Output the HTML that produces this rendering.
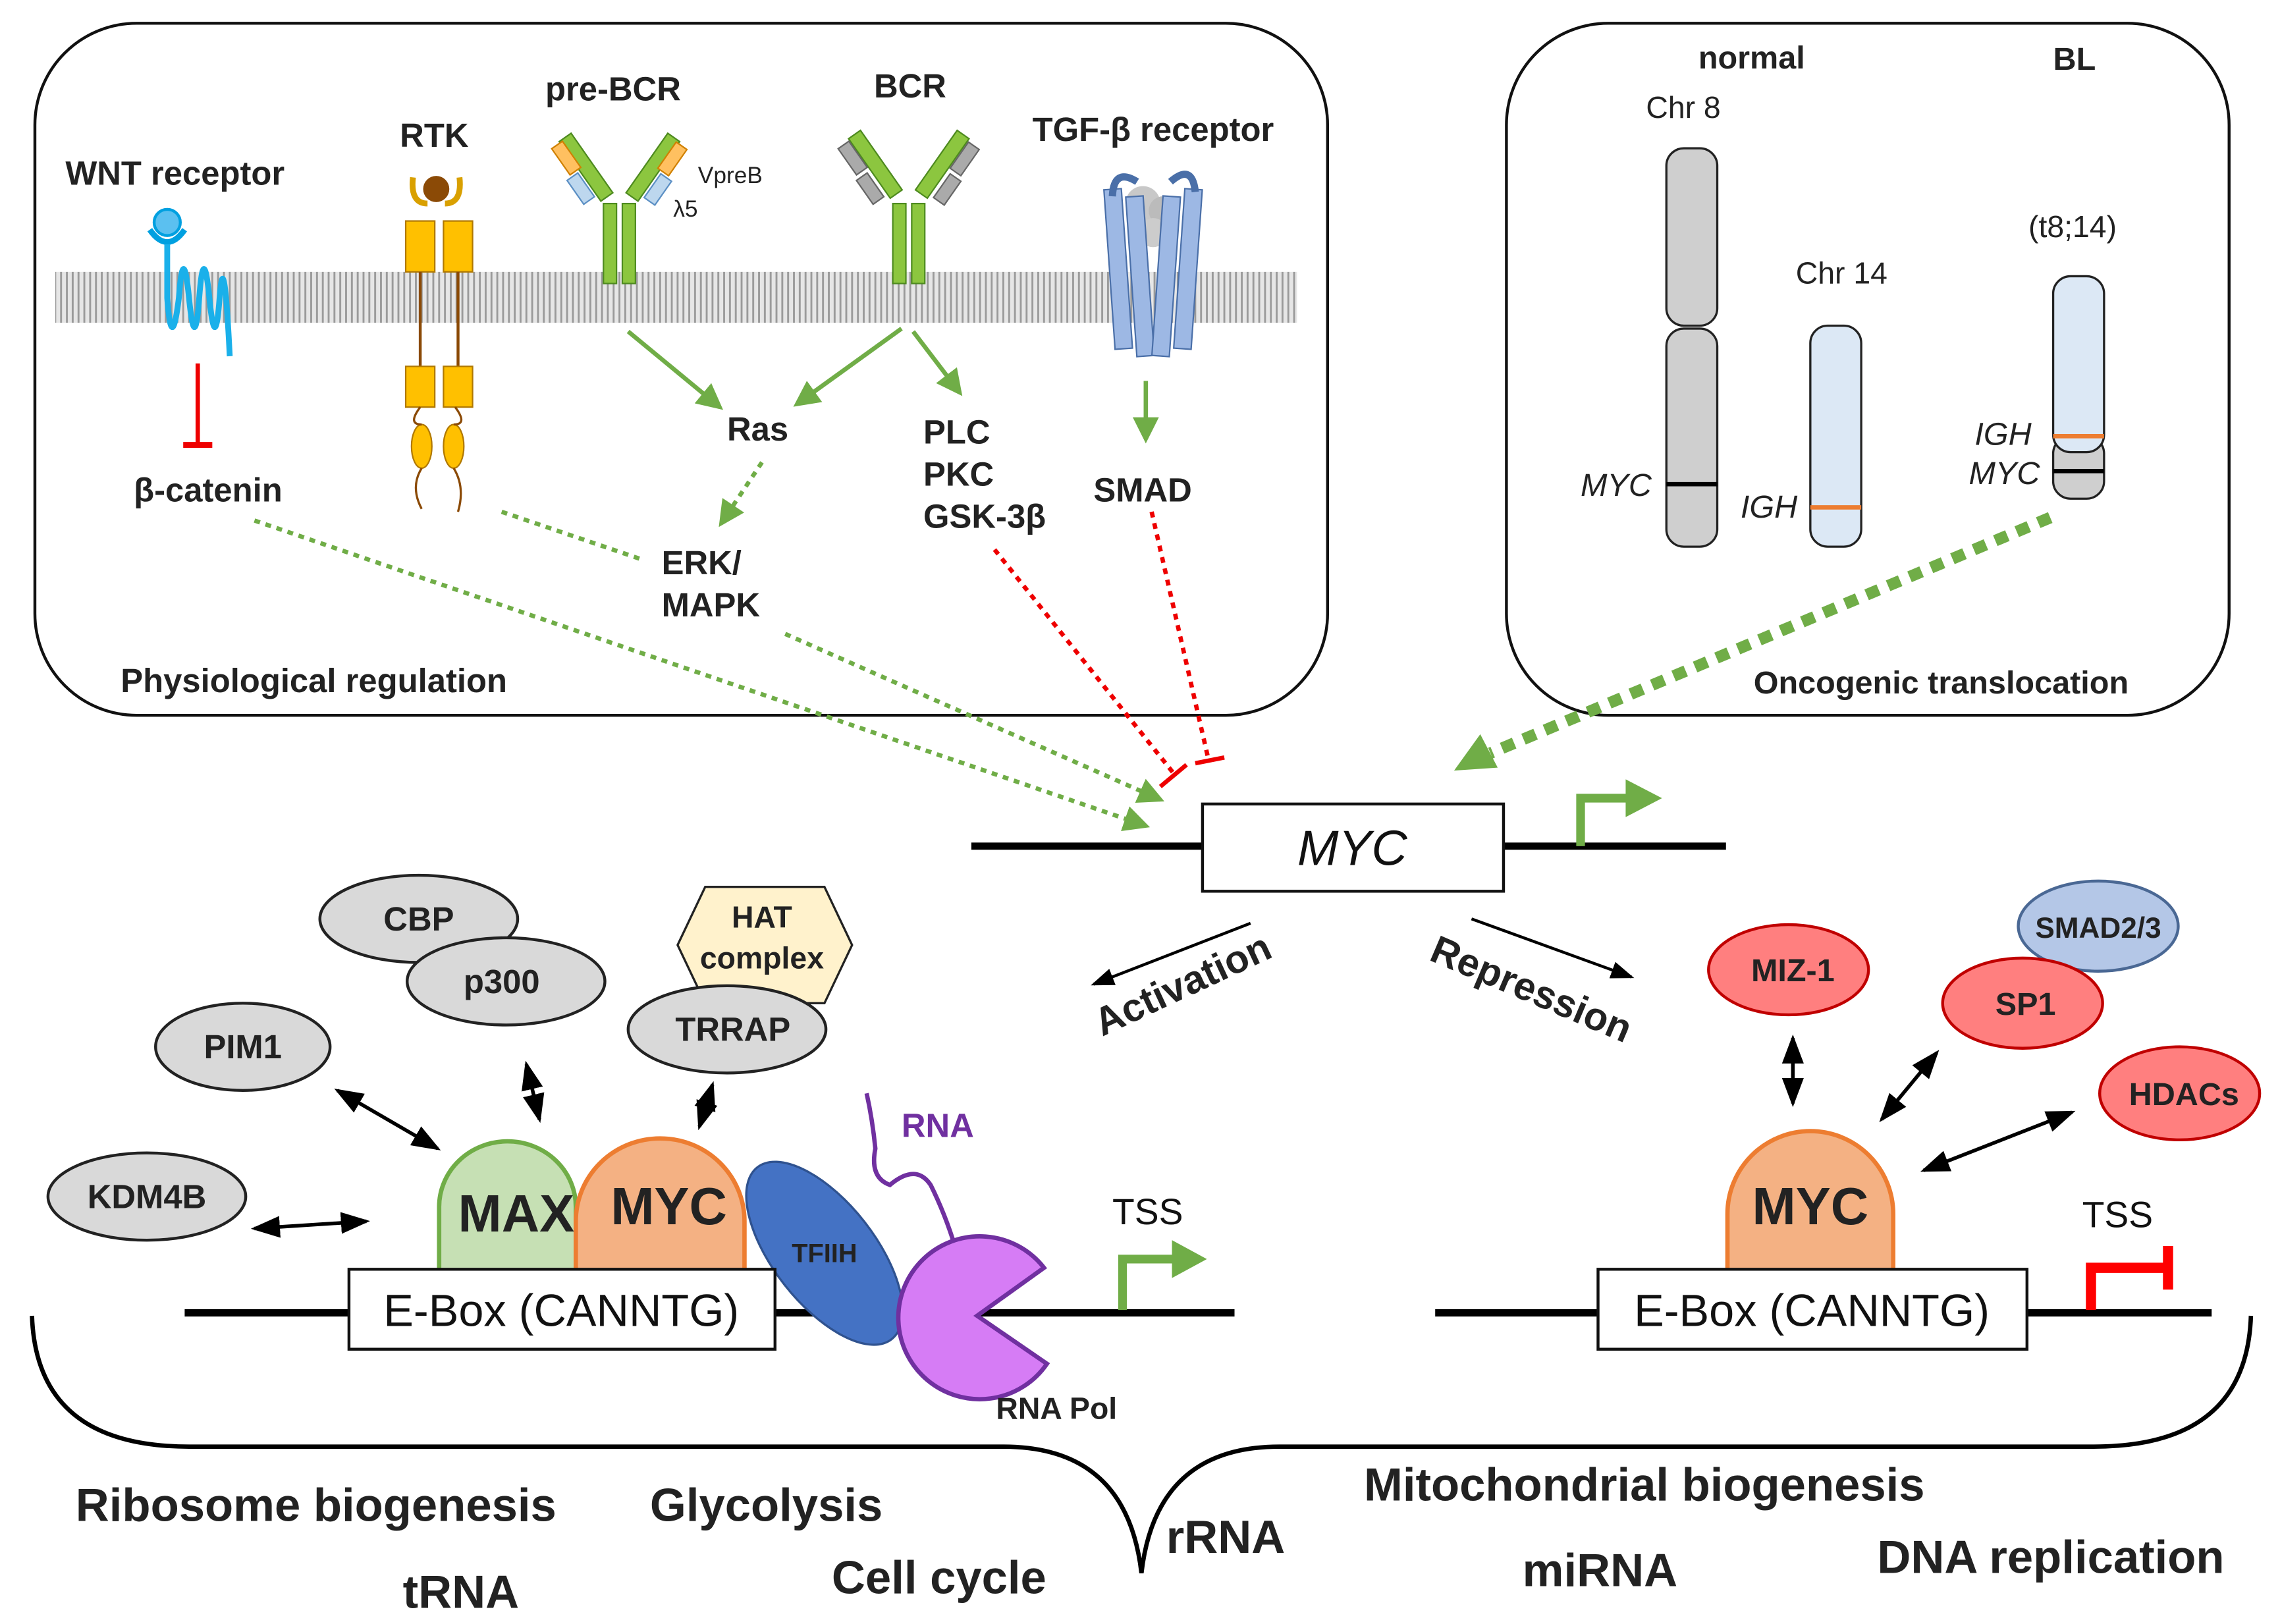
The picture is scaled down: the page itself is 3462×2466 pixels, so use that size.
<!DOCTYPE html>
<html><head><meta charset="utf-8"><style>
html,body{margin:0;padding:0;background:#fff}
svg{display:block}
text{font-family:"Liberation Sans",Arial,sans-serif}
.b{font-weight:bold;fill:#222}
</style></head><body>
<svg width="3462" height="2466" viewBox="0 0 1568 1117" preserveAspectRatio="none" xmlns="http://www.w3.org/2000/svg">
<defs>
<pattern id="mem" width="4" height="35" patternUnits="userSpaceOnUse">
<rect width="4" height="35" fill="#e6e6e6"/>
<line x1="2" y1="0" x2="2" y2="35" stroke="#9a9a9a" stroke-width="1.3"/>
</pattern>
<marker id="ga" markerWidth="6" markerHeight="6" refX="5" refY="3" orient="auto" markerUnits="strokeWidth"><path d="M0,0L6,3L0,6z" fill="#70ad47"/></marker>
<marker id="ka" markerWidth="8" markerHeight="8" refX="7" refY="4" orient="auto" markerUnits="strokeWidth"><path d="M0,1L8,4L0,7z" fill="#000"/></marker>
<marker id="ks" markerWidth="8" markerHeight="8" refX="1" refY="4" orient="auto" markerUnits="strokeWidth"><path d="M8,1L0,4L8,7z" fill="#000"/></marker>
</defs>

<rect x="24" y="16" width="889" height="476" rx="70" fill="none" stroke="#111" stroke-width="2"/>
<rect x="1036" y="16" width="497" height="476" rx="70" fill="none" stroke="#111" stroke-width="2"/>

<rect x="38" y="187" width="854" height="35" fill="url(#mem)"/>

<text x="45" y="127" font-size="23" class="b">WNT receptor</text>
<text x="275" y="101" font-size="23" class="b">RTK</text>
<text x="375" y="69" font-size="23" class="b">pre-BCR</text>
<text x="601" y="67" font-size="23" class="b">BCR</text>
<text x="710" y="97" font-size="23" class="b">TGF-β receptor</text>
<text x="480" y="126" font-size="16" fill="#222">VpreB</text>
<text x="463" y="149" font-size="16" fill="#222">λ5</text>

<circle cx="115" cy="153" r="9" fill="#5bc0f0" stroke="#00a0e0" stroke-width="2"/>
<path d="M103,158 Q115,175 127,158" fill="none" stroke="#00a0e0" stroke-width="4"/>
<path d="M115,168 L115,205 Q118,245 123,205 Q126,165 130,205 Q134,245 137,205 Q140,165 144,205 Q148,245 151,205 Q154,165 158,245" fill="none" stroke="#1ab0ea" stroke-width="4"/>
<line x1="136" y1="250" x2="136" y2="305" stroke="#e00" stroke-width="3"/>
<line x1="126" y1="306" x2="146" y2="306" stroke="#e00" stroke-width="4"/>
<text x="92" y="345" font-size="23" class="b">β-catenin</text>

<circle cx="300" cy="130" r="9" fill="#8b4a06"/>
<path d="M284,122 Q282,140 294,140 M316,122 Q318,140 306,140" fill="none" stroke="#d9a000" stroke-width="4"/>
<rect x="279" y="152" width="20" height="35" fill="#ffc000" stroke="#b07800"/>
<rect x="305" y="152" width="20" height="35" fill="#ffc000" stroke="#b07800"/>
<line x1="289" y1="187" x2="289" y2="252" stroke="#8b4a06" stroke-width="2"/>
<line x1="315" y1="187" x2="315" y2="252" stroke="#8b4a06" stroke-width="2"/>
<rect x="279" y="252" width="20" height="28" fill="#ffc000" stroke="#b07800"/>
<rect x="305" y="252" width="20" height="28" fill="#ffc000" stroke="#b07800"/>
<ellipse cx="290" cy="307" rx="7" ry="15" fill="#ffc000" stroke="#b07800"/>
<ellipse cx="312" cy="307" rx="7" ry="15" fill="#ffc000" stroke="#b07800"/>
<path d="M289,280 Q280,292 290,292 M313,280 Q322,292 312,292 M290,322 Q282,335 290,350 M312,322 Q320,335 315,352" fill="none" stroke="#8b4a06" stroke-width="1.5"/>

<rect x="415" y="140" width="9" height="55" fill="#8cc63f" stroke="#4d8a1e"/>
<rect x="428" y="140" width="9" height="55" fill="#8cc63f" stroke="#4d8a1e"/>
<rect x="398" y="90" width="10" height="50" fill="#8cc63f" stroke="#4d8a1e" transform="rotate(-35 403 115)"/>
<rect x="444" y="90" width="10" height="50" fill="#8cc63f" stroke="#4d8a1e" transform="rotate(35 449 115)"/>
<rect x="385" y="98" width="9" height="22" fill="#ffc060" stroke="#d08000" transform="rotate(-35 389 109)"/>
<rect x="458" y="98" width="9" height="22" fill="#ffc060" stroke="#d08000" transform="rotate(35 462 109)"/>
<rect x="395" y="120" width="9" height="20" fill="#bdd7ee" stroke="#5b8fc4" transform="rotate(-35 399 130)"/>
<rect x="448" y="120" width="9" height="20" fill="#bdd7ee" stroke="#5b8fc4" transform="rotate(35 452 130)"/>

<rect x="614" y="140" width="9" height="55" fill="#8cc63f" stroke="#4d8a1e"/>
<rect x="627" y="140" width="9" height="55" fill="#8cc63f" stroke="#4d8a1e"/>
<rect x="597" y="88" width="10" height="50" fill="#8cc63f" stroke="#4d8a1e" transform="rotate(-35 602 113)"/>
<rect x="643" y="88" width="10" height="50" fill="#8cc63f" stroke="#4d8a1e" transform="rotate(35 648 113)"/>
<rect x="582" y="98" width="9" height="22" fill="#aaa" stroke="#666" transform="rotate(-35 586 109)"/>
<rect x="659" y="98" width="9" height="22" fill="#aaa" stroke="#666" transform="rotate(35 663 109)"/>
<rect x="594" y="120" width="9" height="20" fill="#aaa" stroke="#666" transform="rotate(-35 598 130)"/>
<rect x="647" y="120" width="9" height="20" fill="#aaa" stroke="#666" transform="rotate(35 651 130)"/>

<circle cx="786" cy="140" r="12" fill="#c8c8c8"/><circle cx="800" cy="145" r="10" fill="#bbb"/><circle cx="793" cy="160" r="10" fill="#ccc"/>
<rect x="763" y="130" width="12" height="110" fill="#9db8e4" stroke="#4a6fa8" transform="rotate(-4 769 185)"/>
<rect x="778" y="135" width="12" height="110" fill="#9db8e4" stroke="#4a6fa8" transform="rotate(-4 784 190)"/>
<rect x="796" y="135" width="12" height="110" fill="#9db8e4" stroke="#4a6fa8" transform="rotate(4 802 190)"/>
<rect x="811" y="130" width="12" height="110" fill="#9db8e4" stroke="#4a6fa8" transform="rotate(4 817 185)"/>
<path d="M765,135 Q766,115 782,125 M805,125 Q820,112 822,132" fill="none" stroke="#4a6fa8" stroke-width="5"/>

<text x="500" y="303" font-size="23" class="b">Ras</text>
<text x="635" y="305" font-size="23" class="b">PLC</text>
<text x="635" y="334" font-size="23" class="b">PKC</text>
<text x="635" y="363" font-size="23" class="b">GSK-3β</text>
<text x="752" y="345" font-size="23" class="b">SMAD</text>
<text x="455" y="395" font-size="23" class="b">ERK/</text>
<text x="455" y="424" font-size="23" class="b">MAPK</text>
<text x="83" y="476" font-size="23" class="b">Physiological regulation</text>

<g stroke="#70ad47" stroke-width="3" fill="none">
<line x1="432" y1="228" x2="495" y2="280" marker-end="url(#ga)"/>
<line x1="620" y1="226" x2="548" y2="278" marker-end="url(#ga)"/>
<line x1="628" y1="228" x2="660" y2="270" marker-end="url(#ga)"/>
<line x1="788" y1="262" x2="788" y2="302" marker-end="url(#ga)"/>
<line x1="524" y1="318" x2="496" y2="360" stroke-dasharray="4,4" marker-end="url(#ga)"/>
<line x1="175" y1="358" x2="788" y2="568" stroke-dasharray="4,4" marker-end="url(#ga)"/>
<line x1="345" y1="352" x2="442" y2="385" stroke-dasharray="4,4"/>
<line x1="540" y1="436" x2="798" y2="550" stroke-dasharray="4,4" marker-end="url(#ga)"/>
</g>
<g stroke="#e00" stroke-width="3" fill="none" stroke-dasharray="4,4">
<line x1="684" y1="378" x2="808" y2="533"/>
<line x1="792" y1="352" x2="831" y2="522"/>
</g>
<line x1="798" y1="541" x2="816" y2="526" stroke="#e00" stroke-width="3"/>
<line x1="822" y1="525" x2="842" y2="521" stroke="#e00" stroke-width="3"/>

<text x="1168" y="47" font-size="22" class="b">normal</text>
<text x="1412" y="48" font-size="22" class="b">BL</text>
<text x="1132" y="81" font-size="21" fill="#222">Chr 8</text>
<text x="1235" y="195" font-size="21" fill="#222">Chr 14</text>
<text x="1395" y="163" font-size="21" fill="#222">(t8;14)</text>
<rect x="1146" y="102" width="35" height="122" rx="12" fill="#cfcfcf" stroke="#222" stroke-width="1.5"/>
<rect x="1146" y="226" width="35" height="150" rx="12" fill="#cfcfcf" stroke="#222" stroke-width="1.5"/>
<line x1="1146" y1="333" x2="1181" y2="333" stroke="#000" stroke-width="3"/>
<text x="1087" y="341" font-size="22" font-style="italic" fill="#222">MYC</text>
<rect x="1245" y="224" width="35" height="152" rx="12" fill="#dce8f5" stroke="#222" stroke-width="1.5"/>
<line x1="1245" y1="349" x2="1280" y2="349" stroke="#ed7d31" stroke-width="3"/>
<text x="1197" y="356" font-size="22" font-style="italic" fill="#222">IGH</text>
<rect x="1412" y="300" width="35" height="43" rx="12" fill="#cfcfcf" stroke="#222" stroke-width="1.5"/>
<rect x="1412" y="190" width="35" height="121" rx="12" fill="#dce8f5" stroke="#222" stroke-width="1.5"/>
<line x1="1412" y1="300" x2="1447" y2="300" stroke="#ed7d31" stroke-width="3"/>
<line x1="1412" y1="324" x2="1447" y2="324" stroke="#000" stroke-width="3"/>
<text x="1358" y="306" font-size="22" font-style="italic" fill="#222">IGH</text>
<text x="1354" y="333" font-size="22" font-style="italic" fill="#222">MYC</text>
<text x="1206" y="477" font-size="22" class="b">Oncogenic translocation</text>
<line x1="1410" y1="356" x2="1025" y2="518" stroke="#70ad47" stroke-width="8" stroke-dasharray="9,7"/>
<path d="M1000,530 L1018,505 L1030,528 z" fill="#70ad47"/>

<line x1="668" y1="582" x2="1187" y2="582" stroke="#000" stroke-width="5"/>
<rect x="827" y="553" width="207" height="60" fill="#fff" stroke="#111" stroke-width="2"/>
<text x="930" y="595" font-size="34" font-style="italic" text-anchor="middle" fill="#111">MYC</text>
<path d="M1087,582 L1087,549 L1120,549" fill="none" stroke="#70ad47" stroke-width="6"/>
<path d="M1118,536 L1143,549 L1118,562 z" fill="#70ad47"/>

<line x1="860" y1="635" x2="752" y2="677" stroke="#000" stroke-width="2" marker-end="url(#ka)"/>
<line x1="1012" y1="632" x2="1122" y2="672" stroke="#000" stroke-width="2" marker-end="url(#ka)"/>
<text x="758" y="713" font-size="27" class="b" transform="rotate(-25 758 713)">Activation</text>
<text x="982" y="660" font-size="27" class="b" transform="rotate(23 982 660)">Repression</text>

<g stroke="#222" stroke-width="2" fill="#d9d9d9">
<ellipse cx="288" cy="632" rx="68" ry="30"/>
<ellipse cx="348" cy="675" rx="68" ry="30"/>
<ellipse cx="167" cy="720" rx="60" ry="30"/>
<ellipse cx="101" cy="823" rx="68" ry="30"/>
</g>
<polygon points="466,650 485,610 567,610 586,650 567,690 485,690" fill="#fff2cc" stroke="#222" stroke-width="1.5"/>
<ellipse cx="500" cy="708" rx="68" ry="30" fill="#d9d9d9" stroke="#222" stroke-width="2"/>
<g font-size="23" class="b" text-anchor="middle">
<text x="288" y="640">CBP</text><text x="345" y="683">p300</text><text x="167" y="728">PIM1</text>
<text x="101" y="831">KDM4B</text><text x="504" y="716">TRRAP</text>
<text x="524" y="638" font-size="21">HAT</text><text x="524" y="666" font-size="21">complex</text>
</g>
<g stroke="#000" stroke-width="2.5">
<line x1="232" y1="750" x2="301" y2="790" marker-start="url(#ks)" marker-end="url(#ka)"/>
<line x1="362" y1="732" x2="371" y2="770" marker-start="url(#ks)" marker-end="url(#ka)"/>
<line x1="490" y1="746" x2="481" y2="775" marker-start="url(#ks)" marker-end="url(#ka)"/>
<line x1="175" y1="845" x2="252" y2="840" marker-start="url(#ks)" marker-end="url(#ka)"/>
</g>

<line x1="127" y1="903" x2="849" y2="903" stroke="#000" stroke-width="5"/>
<path d="M302,908 L302,830 A47,45 0 0 1 396,830 L396,908 z" fill="#c6e0b4" stroke="#70ad47" stroke-width="3"/>
<path d="M396,908 L396,840 A58,57 0 0 1 512,840 L512,908 z" fill="#f4b183" stroke="#ed7d31" stroke-width="3"/>
<text x="355" y="847" font-size="36" class="b" text-anchor="middle">MAX</text>
<text x="460" y="842" font-size="36" class="b" text-anchor="middle">MYC</text>
<ellipse cx="567" cy="862" rx="35" ry="75" fill="#4472c4" stroke="#2f528f" stroke-width="1.5" transform="rotate(-38 567 862)"/>
<text x="567" y="868" font-size="18" class="b" text-anchor="middle">TFIIH</text>
<path d="M596,752 Q600,770 602,790 Q598,810 612,815 Q630,800 640,815 Q650,835 657,858" fill="none" stroke="#7030a0" stroke-width="3"/>
<text x="620" y="782" font-size="23" font-weight="bold" fill="#7030a0">RNA</text>
<path d="M672,905 L718,872 A56,56 0 1 0 720,938 z" fill="#d67cf5" stroke="#7030a0" stroke-width="3"/>
<text x="685" y="976" font-size="21" class="b">RNA Pol</text>
<rect x="240" y="873" width="293" height="55" fill="#fff" stroke="#111" stroke-width="2"/>
<text x="386" y="912" font-size="31" text-anchor="middle" fill="#111">E-Box (CANNTG)</text>
<text x="765" y="842" font-size="25" fill="#111">TSS</text>
<path d="M772,901 L772,866 L808,866" fill="none" stroke="#70ad47" stroke-width="6"/>
<path d="M806,853 L830,866 L806,879 z" fill="#70ad47"/>

<ellipse cx="1230" cy="667" rx="55" ry="31" fill="#ff7f7f" stroke="#c00000" stroke-width="2"/>
<ellipse cx="1443" cy="637" rx="55" ry="31" fill="#b4c7e7" stroke="#4a6894" stroke-width="2"/>
<ellipse cx="1391" cy="690" rx="55" ry="31" fill="#ff7f7f" stroke="#c00000" stroke-width="2"/>
<ellipse cx="1499" cy="752" rx="55" ry="32" fill="#ff7f7f" stroke="#c00000" stroke-width="2"/>
<g font-size="22" class="b" text-anchor="middle">
<text x="1233" y="675">MIZ-1</text><text x="1443" y="645" font-size="20">SMAD2/3</text>
<text x="1393" y="698">SP1</text><text x="1502" y="760">HDACs</text>
</g>
<g stroke="#000" stroke-width="2.5">
<line x1="1233" y1="714" x2="1233" y2="759" marker-start="url(#ks)" marker-end="url(#ka)"/>
<line x1="1332" y1="724" x2="1294" y2="770" marker-start="url(#ks)" marker-end="url(#ka)"/>
<line x1="1425" y1="765" x2="1323" y2="805" marker-start="url(#ks)" marker-end="url(#ka)"/>
</g>
<line x1="987" y1="903" x2="1521" y2="903" stroke="#000" stroke-width="5"/>
<path d="M1188,908 L1188,835 A57,57 0 0 1 1302,835 L1302,908 z" fill="#f4b183" stroke="#ed7d31" stroke-width="3"/>
<text x="1245" y="842" font-size="36" class="b" text-anchor="middle">MYC</text>
<rect x="1099" y="873" width="295" height="55" fill="#fff" stroke="#111" stroke-width="2"/>
<text x="1246" y="912" font-size="31" text-anchor="middle" fill="#111">E-Box (CANNTG)</text>
<text x="1432" y="844" font-size="25" fill="#111">TSS</text>
<path d="M1438,901 L1438,872 L1490,872" fill="none" stroke="#f00" stroke-width="7"/>
<line x1="1491" y1="857" x2="1491" y2="887" stroke="#f00" stroke-width="7"/>

<path d="M22,905 Q25,995 130,995 L690,995 Q775,995 785,1082 Q795,995 880,995 L1440,995 Q1545,995 1548,905" fill="none" stroke="#000" stroke-width="3"/>

<g font-size="32" class="b">
<text x="52" y="1046">Ribosome biogenesis</text>
<text x="447" y="1046">Glycolysis</text>
<text x="277" y="1106">tRNA</text>
<text x="572" y="1096">Cell cycle</text>
<text x="802" y="1068">rRNA</text>
<text x="938" y="1032">Mitochondrial biogenesis</text>
<text x="1047" y="1091">miRNA</text>
<text x="1291" y="1082">DNA replication</text>
</g>
</svg>
</body></html>
